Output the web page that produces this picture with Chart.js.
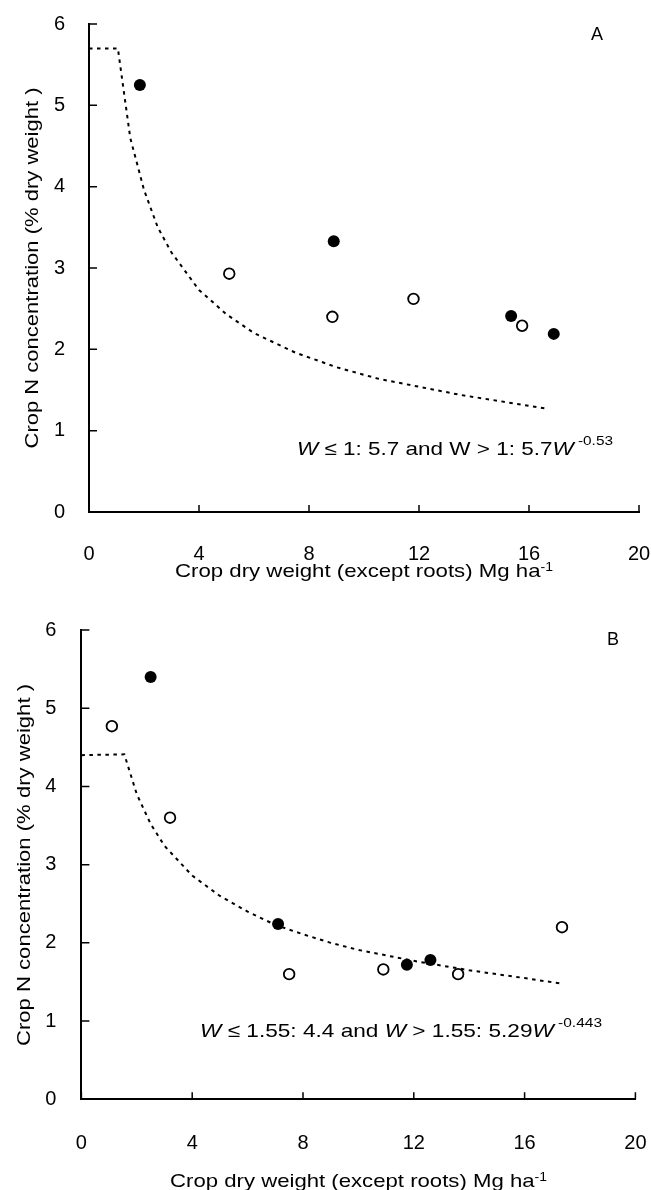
<!DOCTYPE html>
<html>
<head>
<meta charset="utf-8">
<script src="https://cdn.jsdelivr.net/npm/chart.js@4"></script>
<style>
  body { margin: 0; background: #fff; }
  canvas { display: block; }
</style>
</head>
<body>
<canvas id="chart-a" width="651" height="590"></canvas>
<canvas id="chart-b" width="651" height="600"></canvas>
<script>
// values: crop dry weight W (Mg/ha) vs crop N (% dry weight)
const xTicks = [0, 4, 8, 12, 16, 20];
const yTicks = [0, 1, 2, 3, 4, 5, 6];

// panel A
const aFilledW = [1.85, 8.9, 15.35, 16.9];
const aFilledN = [5.25, 3.33, 2.41, 2.19];
const aOpenW = [5.1, 8.85, 11.8, 15.75];
const aOpenN = [2.93, 2.4, 2.62, 2.29];
const aCurveW = [0, 1.05, 1.5, 2, 2.5, 3, 4, 5, 6, 7.5, 9, 10.5, 12, 13.5, 15, 16.65];
const aCurveN = [5.7, 5.7, 4.6, 3.96, 3.5, 3.19, 2.73, 2.43, 2.2, 1.96, 1.78, 1.64, 1.54, 1.44, 1.36, 1.27];

// panel B
const bFilledW = [2.5, 7.1, 11.75, 12.6];
const bFilledN = [5.4, 2.24, 1.72, 1.78];
const bOpenW = [1.1, 3.2, 7.5, 10.9, 13.6, 17.35];
const bOpenN = [4.77, 3.6, 1.6, 1.66, 1.6, 2.2];
const bCurveW = [0, 1.55, 2, 2.5, 3, 4, 5, 6, 7, 8, 9, 10, 12, 14, 16, 17.3];
const bCurveN = [4.4, 4.41, 3.9, 3.52, 3.24, 2.86, 2.6, 2.4, 2.23, 2.11, 2.0, 1.91, 1.77, 1.65, 1.55, 1.48];

const FONT = '"Liberation Sans", Arial, sans-serif';
const pts = (xs, ys) => xs.map((x, i) => ({ x, y: ys[i] }));

function runFont(r, size) {
  const s = r.sup ? Math.round(size * r.sup) : size;
  return `${r.it ? "italic " : ""}${s}px ${FONT}`;
}

// draws a row of text runs (italic / superscript) on the baseline at the origin,
// stretched to the given width like the scanned original
function drawRuns(ctx, runs, size, width, raise) {
  let nat = 0;
  runs.forEach((r) => { ctx.font = runFont(r, size); nat += ctx.measureText(r.t).width; });
  ctx.save();
  ctx.scale(width / nat, 1);
  ctx.textAlign = "left";
  ctx.textBaseline = "alphabetic";
  let x = 0;
  runs.forEach((r) => {
    ctx.font = runFont(r, size);
    ctx.fillText(r.t, x, r.sup ? -size * raise : 0);
    x += ctx.measureText(r.t).width;
  });
  ctx.restore();
}

const xTitle = [{ t: "Crop dry weight (except roots) Mg ha" }, { t: "-1", sup: 0.65 }];
const yTitle = [{ t: "Crop N concentration (% dry weight )" }];

const textPlugin = {
  id: "figText",
  afterDraw(chart) {
    const c = chart.options.plugins.figText;
    const ctx = chart.ctx;
    const { left, bottom } = chart.chartArea;
    const xs = chart.scales.x, ys = chart.scales.y;
    ctx.save();
    ctx.fillStyle = "#000";
    ctx.strokeStyle = "#000";
    // inward tick marks
    ctx.lineWidth = 1.5;
    ctx.beginPath();
    xs.ticks.forEach((t) => {
      const p = xs.getPixelForValue(t.value);
      ctx.moveTo(p, bottom); ctx.lineTo(p, bottom - 7);
    });
    ys.ticks.forEach((t) => {
      const p = ys.getPixelForValue(t.value);
      ctx.moveTo(left, p); ctx.lineTo(left + 8, p);
    });
    ctx.stroke();

    // y title
    ctx.save();
    ctx.translate(c.yTitle.x, c.yTitle.y);
    ctx.rotate(-Math.PI / 2);
    ctx.translate(-c.yTitle.w / 2, 0);
    drawRuns(ctx, yTitle, 19, c.yTitle.w, 0);
    ctx.restore();

    // x title
    ctx.save();
    ctx.translate(c.xTitle.x, c.xTitle.y);
    drawRuns(ctx, xTitle, 19, c.xTitle.w, 0.32);
    ctx.restore();

    // equation
    ctx.save();
    ctx.translate(c.eq.x, c.eq.y);
    drawRuns(ctx, c.eq.runs, 19, c.eq.w, 0.52);
    ctx.restore();

    // panel letter
    ctx.font = `18px ${FONT}`;
    ctx.textAlign = "center";
    ctx.textBaseline = "middle";
    ctx.fillText(c.letter.t, c.letter.x, c.letter.y);
    ctx.restore();
  },
};

function makeChart(id, d) {
  const el = document.getElementById(id);
  return new Chart(el, {
    type: "scatter",
    data: {
      datasets: [
        {
          data: pts(d.filledW, d.filledN), order: 1,
          pointRadius: 6, pointBackgroundColor: "#000", pointBorderWidth: 0,
        },
        {
          data: pts(d.openW, d.openN), order: 1,
          pointRadius: 5.3, pointBackgroundColor: "#fff", pointBorderColor: "#000", pointBorderWidth: 1.8,
        },
        {
          data: pts(d.curveW, d.curveN), order: 3, showLine: true,
          pointRadius: 0, borderColor: "#000", borderWidth: 2, borderDash: [3.5, 4.5], tension: 0,
        },
      ],
    },
    options: {
      responsive: false,
      animation: false,
      devicePixelRatio: 1,
      layout: { padding: { left: 0, top: d.top, right: el.width - d.right, bottom: 0 } },
      plugins: { legend: { display: false }, tooltip: { enabled: false }, figText: d.text },
      scales: {
        x: {
          type: "linear", min: 0, max: 20,
          afterBuildTicks: (s) => { s.ticks = xTicks.map((v) => ({ value: v })); },
          // end labels may hang into the page margin, as in the figure
          afterFit: (s) => { s.height = el.height - d.bottom; s.paddingLeft = 0; s.paddingRight = 0; },
          ticks: { color: "#000", font: { family: FONT, size: 20 }, padding: d.xPad },
          grid: { display: false },
          border: { display: true, color: "#000", width: 2 },
        },
        y: {
          type: "linear", min: 0, max: 6,
          afterBuildTicks: (s) => { s.ticks = yTicks.map((v) => ({ value: v })); },
          afterFit: (s) => { s.width = d.left; s.paddingTop = 0; s.paddingBottom = 0; },
          ticks: { color: "#000", font: { family: FONT, size: 20 }, padding: d.yPad },
          grid: { display: false },
          border: { display: true, color: "#000", width: 2 },
        },
      },
    },
    plugins: [textPlugin],
  });
}

makeChart("chart-a", {
  filledW: aFilledW, filledN: aFilledN, openW: aOpenW, openN: aOpenN,
  curveW: aCurveW, curveN: aCurveN,
  left: 89, right: 639, top: 24, bottom: 512, xPad: 22, yPad: 16,
  text: {
    yTitle: { x: 38, y: 268, w: 361 },
    xTitle: { x: 175, y: 577, w: 378 },
    eq: {
      x: 297, y: 455, w: 316,
      runs: [{ t: "W", it: true }, { t: " \u2264 1: 5.7 and W > 1: 5.7" }, { t: "W", it: true }, { t: " -0.53", sup: 0.7 }],
    },
    letter: { t: "A", x: 597, y: 35 },
  },
});

makeChart("chart-b", {
  filledW: bFilledW, filledN: bFilledN, openW: bOpenW, openN: bOpenN,
  curveW: bCurveW, curveN: bCurveN,
  left: 81.4, right: 635.4, top: 40, bottom: 509.3, xPad: 24, yPad: 17,
  text: {
    yTitle: { x: 30, y: 275, w: 362 },
    xTitle: { x: 170, y: 597, w: 377 },
    eq: {
      x: 200, y: 447, w: 402,
      runs: [
        { t: "W", it: true }, { t: " \u2264 1.55: 4.4 and " }, { t: "W", it: true },
        { t: " > 1.55: 5.29" }, { t: "W", it: true }, { t: " -0.443", sup: 0.7 },
      ],
    },
    letter: { t: "B", x: 613, y: 50 },
  },
});
</script>
</body>
</html>
